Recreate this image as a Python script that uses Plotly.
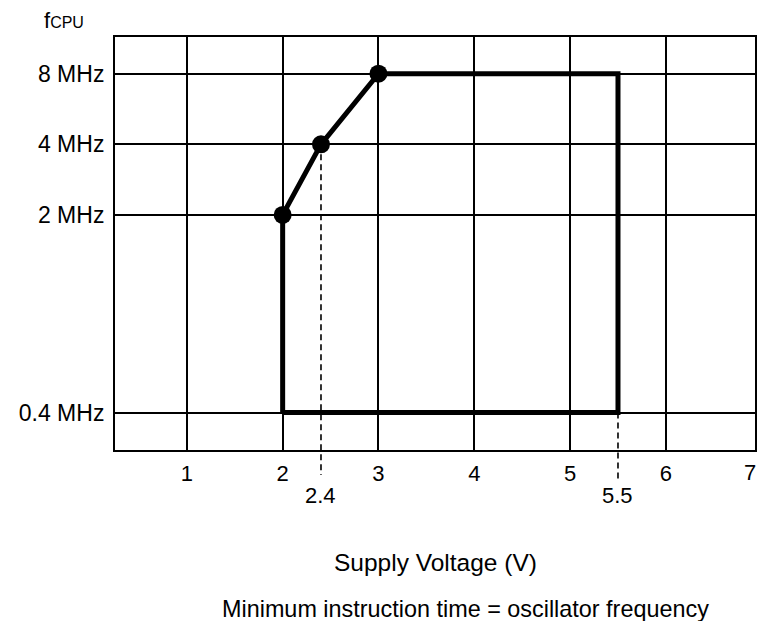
import plotly.graph_objects as go

# supply voltage axis (the last tick sits on the right border)
volt_ticks = [1, 2, 3, 4, 5, 6, 6.93]
volt_labels = ["1", "2", "3", "4", "5", "6", "7"]

# frequency levels are drawn on an evenly spaced (non-log) position axis
freq_labels = ["0.4 MHz", "2 MHz", "4 MHz", "8 MHz"]
freq_pos = [1.0, 3.8, 4.8, 5.8]

# operating region outline (voltage, frequency position)
region_v = [2, 2, 2.4, 3, 5.5, 5.5, 2]
region_f = [1.0, 3.8, 4.8, 5.8, 5.8, 1.0, 1.0]

# corner points on the slope
knee_v = [2, 2.4, 3]
knee_f = [3.8, 4.8, 5.8]

# dashed markers for the non-integer voltages
mark_v = [2.4, 5.5]
mark_f = [4.8, 1.0]
mark_labels = ["2.4", "5.5"]

X_RANGE = [0.25, 6.93]
Y_RANGE = [0.47, 6.32]
FONT = "Liberation Sans, Arial, sans-serif"

# page body adds an 8px margin, so the figure is sized to avoid scrollbars
OFF = 8
FIG_W, FIG_H = 765 - OFF, 629 - 2 * OFF
PLOT_L, PLOT_T, PLOT_W, PLOT_H = 115, 37, 640, 413


def to_paper(pos):
    return (pos - Y_RANGE[0]) / (Y_RANGE[1] - Y_RANGE[0])


def px_x(px):
    return (px - PLOT_L) / PLOT_W


def px_y(py):
    return 1 - (py - PLOT_T) / PLOT_H


fig = go.Figure()
fig.add_trace(
    go.Scatter(
        x=region_v,
        y=region_f,
        mode="lines",
        line={"color": "black", "width": 5},
        hoverinfo="skip",
    )
)
fig.add_trace(
    go.Scatter(
        x=knee_v,
        y=knee_f,
        mode="markers",
        marker={"color": "black", "size": 18},
        cliponaxis=False,
    )
)

for v, f, lab, end in zip(mark_v, mark_f, mark_labels, [475, 481]):
    fig.add_shape(
        type="line",
        xref="x",
        yref="paper",
        x0=v,
        x1=v,
        y0=to_paper(f),
        y1=px_y(end),
        line={"color": "black", "width": 1.6, "dash": "6px,4px"},
        layer="below",
    )
    fig.add_annotation(
        x=v,
        y=px_y(495),
        xref="x",
        yref="paper",
        text=lab,
        showarrow=False,
        font={"size": 22},
        yanchor="middle",
    )

# edge label drawn as annotation so it is not clipped at the figure border
fig.add_annotation(
    x=volt_ticks[-1],
    y=px_y(473),
    xref="x",
    yref="paper",
    text=volt_labels[-1],
    showarrow=False,
    font={"size": 22},
    xanchor="right",
    yanchor="middle",
    xshift=3,
)

fig.add_annotation(
    x=px_x(64),
    y=px_y(20),
    xref="paper",
    yref="paper",
    text="f<span style='font-size:16px'>CPU</span>",
    showarrow=False,
    font={"size": 22},
    xanchor="center",
    yanchor="middle",
)
fig.add_annotation(
    x=0.5,
    y=px_y(562),
    xref="paper",
    yref="paper",
    text="Supply Voltage (V)",
    showarrow=False,
    font={"size": 24.5},
    yanchor="middle",
)
fig.add_annotation(
    x=px_x(465),
    y=px_y(609),
    xref="paper",
    yref="paper",
    text="Minimum instruction time = oscillator frequency",
    showarrow=False,
    font={"size": 23.4},
    yanchor="middle",
)

fig.update_layout(
    width=FIG_W,
    height=FIG_H,
    margin={
        "l": PLOT_L - OFF,
        "r": FIG_W - (PLOT_L - OFF) - PLOT_W,
        "t": PLOT_T - OFF,
        "b": FIG_H - (PLOT_T - OFF) - PLOT_H,
    },
    paper_bgcolor="white",
    plot_bgcolor="white",
    font={"family": FONT, "color": "black", "size": 23},
    showlegend=False,
)
fig.update_xaxes(
    range=X_RANGE,
    tickvals=volt_ticks,
    ticktext=volt_labels[:-1] + [""],
    showgrid=True,
    gridcolor="black",
    gridwidth=1.8,
    zeroline=False,
    showline=True,
    mirror=True,
    linecolor="black",
    linewidth=2,
    ticks="",
    ticklabelstandoff=3,
    tickfont={"size": 22},
    automargin=False,
)
fig.update_yaxes(
    range=Y_RANGE,
    tickvals=freq_pos,
    ticktext=freq_labels,
    showgrid=True,
    gridcolor="black",
    gridwidth=1.8,
    zeroline=False,
    showline=True,
    mirror=True,
    linecolor="black",
    linewidth=2,
    ticks="",
    ticklabelstandoff=4,
    tickfont={"size": 23},
    automargin=False,
)

fig.write_html("out.html")
